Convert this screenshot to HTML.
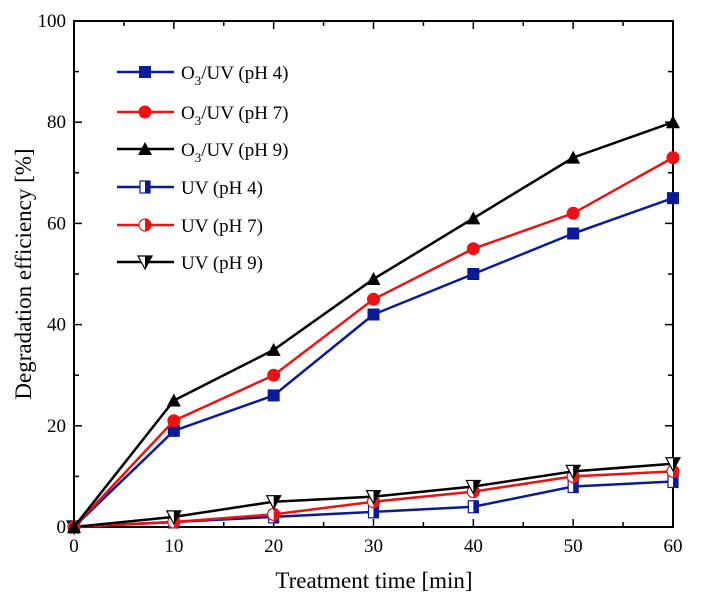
<!DOCTYPE html>
<html><head><meta charset="utf-8"><style>body{margin:0;background:#fff}svg{display:block;font-family:"Liberation Serif",serif}</style></head>
<body>
<svg id="chart" width="702" height="608"></svg>
<script>
const times=[0,10,20,30,40,50,60];
const o3ph4=[0,19,26,42,50,58,65];
const o3ph7=[0,21,30,45,55,62,73];
const o3ph9=[0,25,35,49,61,73,80];
const uvph4=[0,1,2,3,4,8,9];
const uvph7=[0,1,2.5,5,7,10,11];
const uvph9=[0,2,5,6,8,11,12.5];
const xTicks=[0,10,20,30,40,50,60];
const yTicks=[0,20,40,60,80,100];
const labels=["O3/UV (pH 4)","O3/UV (pH 7)","O3/UV (pH 9)","UV (pH 4)","UV (pH 7)","UV (pH 9)"];

const NS="http://www.w3.org/2000/svg",svg=document.getElementById('chart');
const L=74,R=673,T=21,B=527;
const X=v=>L+(v/60)*(R-L), Y=v=>B-(v/100)*(B-T);
function el(t,a,p){const e=document.createElementNS(NS,t);for(const k in a)e.setAttribute(k,a[k]);(p||svg).appendChild(e);return e;}
// axes box
const box=el('rect',{x:L,y:T,width:R-L,height:B-T,fill:'none',stroke:'#000','stroke-width':2});


for(let v=0;v<=60;v+=5){const maj=v%10===0,len=maj?8:5;
 el('line',{x1:X(v),x2:X(v),y1:B,y2:B-len,stroke:'#000','stroke-width':1.5});
 el('line',{x1:X(v),x2:X(v),y1:T,y2:T+len,stroke:'#000','stroke-width':1.5});}
for(let v=0;v<=100;v+=10){const maj=v%20===0,len=maj?8:5;
 el('line',{x1:L,x2:L+len,y1:Y(v),y2:Y(v),stroke:'#000','stroke-width':1.5});
 el('line',{x1:R,x2:R-len,y1:Y(v),y2:Y(v),stroke:'#000','stroke-width':1.5});}
xTicks.forEach(v=>{const t=el('text',{x:X(v),y:B+25,'text-anchor':'middle','font-size':19});t.textContent=v;
 
 });
yTicks.forEach(v=>{const t=el('text',{x:L-8,y:Y(v)+6,'text-anchor':'end','font-size':19});t.textContent=v;
 
 });
const xt=el('text',{x:374,y:588,'text-anchor':'middle','font-size':23});xt.textContent='Treatment time [min]';


const yt=el('text',{x:0,y:0,'text-anchor':'middle','font-size':23,transform:'translate(31,274) rotate(-90)'});yt.textContent='Degradation efficiency [%]';



const BLUE='#0a1a9a',RED='#ee1111',BLK='#000';
function marker(type,color,x,y,g){const s=6;
 if(type==='sq')el('rect',{x:x-s,y:y-s,width:2*s,height:2*s,fill:color},g);
 else if(type==='ci')el('circle',{cx:x,cy:y,r:6.5,fill:color},g);
 else if(type==='tri')el('polygon',{points:`${x},${y-7} ${x-7},${y+6} ${x+7},${y+6}`,fill:color},g);
 else if(type==='hsq'){el('rect',{x:x-5,y:y-6,width:10,height:12,fill:'#fff',stroke:color,'stroke-width':1.2},g);el('rect',{x:x,y:y-6,width:5,height:12,fill:color},g);}
 else if(type==='hci'){el('circle',{cx:x,cy:y,r:6,fill:'#fff',stroke:color,'stroke-width':1.2},g);el('path',{d:`M${x},${y-6} A6,6 0 0 1 ${x},${y+6} Z`,fill:color},g);}
 else if(type==='itri'){el('polygon',{points:`${x-7},${y-6} ${x+7},${y-6} ${x},${y+7}`,fill:'#fff',stroke:color,'stroke-width':1.2},g);el('polygon',{points:`${x},${y-6} ${x+7},${y-6} ${x},${y+7}`,fill:color},g);}
}
const series=[[o3ph4,BLUE,'sq'],[o3ph7,RED,'ci'],[o3ph9,BLK,'tri'],[uvph4,BLUE,'hsq'],[uvph7,RED,'hci'],[uvph9,BLK,'itri']];
const order=[3,4,5,0,1,2];
order.forEach(i=>{const [d,c,m]=series[i];const g=el('g',{});
 
 
 el('polyline',{points:times.map((t,j)=>X(t)+','+Y(d[j])).join(' '),fill:'none',stroke:c,'stroke-width':2.5},g);
 times.forEach((t,j)=>marker(m,c,X(t),Y(d[j]),g));});
// legend
const rows=[72,112,149,187,225,262];
series.forEach(([d,c,m],i)=>{const g=el('g',{});
 
 
 const y=rows[i];
 el('line',{x1:117,x2:174,y1:y,y2:y,stroke:c,'stroke-width':2.5},g);
 marker(m,c,145,y,g);
 const t=el('text',{x:181,y:y+7,'font-size':19},g);
 if(labels[i].startsWith('O3')){t.textContent='O';const s=el('tspan',{dy:6,'font-size':13},t);s.textContent='3';const r=el('tspan',{dy:-6},t);r.textContent=labels[i].slice(2);}
 else t.textContent=labels[i];});
</script>
</body></html>
